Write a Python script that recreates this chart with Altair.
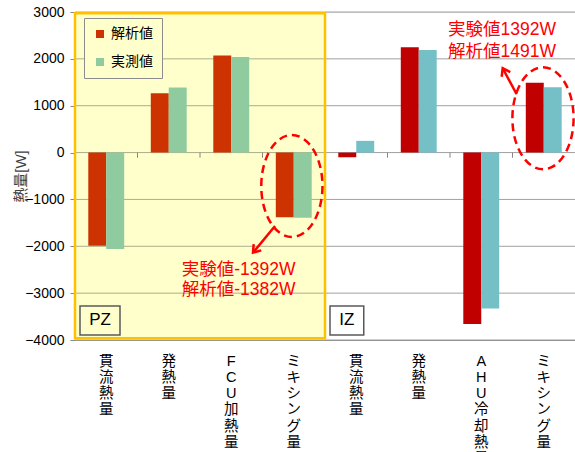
import altair as alt
import pandas as pd

# ---- data ----
CATS = ["PZ|貫流熱量", "PZ|発熱量", "PZ|FCU加熱量", "PZ|ミキシング量",
        "IZ|貫流熱量", "IZ|発熱量", "IZ|AHU冷却熱量", "IZ|ミキシング量"]
SERIES = ["解析値", "実測値"]
ANALYSIS = [-1990, 1265, 2070, -1382, -100, 2250, -3660, 1491]
MEASURED = [-2060, 1390, 2040, -1392, 250, 2190, -3330, 1392]
Y_TICKS = [-4000, -3000, -2000, -1000, 0, 1000, 2000, 3000]
ZONES = ["PZ", "IZ"]
ZONE_START = [0, 4]
ZONE_END = [4, 8]

# annotations (x in category-index units, y in W)
NOTE_TEXT = ["実験値-1392W", "解析値-1382W", "実験値1392W", "解析値1491W"]
NOTE_X = [1.707, 1.707, 5.968, 5.968]
NOTE_Y = [-2505, -2932, 2606, 2153]
ELL_X = [3.47, 7.488]
ELL_Y = [-713, 732]
ARR_X1 = [3.2, 7.067]
ARR_X2 = [2.848, 6.843]
ARR_Y1 = [-1566, 1244]
ARR_Y2 = [-2136, 1799]
ARR_ANGLE = [219.5, 331.7]
BOX_X1 = [0.08, 4.08]
BOX_X2 = [0.72, 4.62]
BOX_Y1 = [-3274, -3274]
BOX_Y2 = [-3892, -3892]

KEYS = ["PZ解析値", "PZ実測値", "IZ解析値", "IZ実測値"]
COLORS = ["#CC3300", "#8FCB9F", "#C00000", "#74C0C6"]

FONT = "Liberation Sans, Noto Sans CJK JP"

rows = []
for c, a, m in zip(CATS, ANALYSIS, MEASURED):
    z = c[:2]
    rows.append({"cat": c, "series": SERIES[0], "value": a, "key": z + SERIES[0]})
    rows.append({"cat": c, "series": SERIES[1], "value": m, "key": z + SERIES[1]})
bars_df = pd.DataFrame(rows)
cats_df = pd.DataFrame({"cat": CATS})
zones_df = pd.DataFrame({"zone": ZONES, "start": ZONE_START, "end": ZONE_END})
grid_df = pd.DataFrame([{"zone": z, "start": s, "end": e, "y": t}
                        for z, s, e in zip(ZONES, ZONE_START, ZONE_END) for t in Y_TICKS])
notes_df = pd.DataFrame({"text": NOTE_TEXT, "x": NOTE_X, "y": NOTE_Y})
ell_df = pd.DataFrame({"x": ELL_X, "y": ELL_Y})
arr_df = pd.DataFrame({"x1": ARR_X1, "x2": ARR_X2, "y1": ARR_Y1, "y2": ARR_Y2, "ang": ARR_ANGLE})
box_df = pd.DataFrame({"zone": ZONES, "x1": BOX_X1, "x2": BOX_X2, "y1": BOX_Y1, "y2": BOX_Y2})
box_df["xc"] = (box_df["x1"] + box_df["x2"]) / 2
box_df["yc"] = (box_df["y1"] + box_df["y2"]) / 2

YSCALE = alt.Scale(domain=[-4000, 3000], nice=False, zero=False)
YAXIS = alt.Axis(values=Y_TICKS, format="d", grid=False, title="熱量[W]", titleFontSize=15,
                 titleFont=FONT, titleFontWeight="normal", titleColor="#404040",
                 labelFontSize=14, labelFont=FONT, labelColor="#000000",
                 tickColor="#868686", domainColor="#868686", tickSize=5,
                 labelPadding=6, titlePadding=-4)
QX = alt.Scale(domain=[0, 8], nice=False, zero=False)
BX = alt.Scale(paddingInner=0, paddingOuter=0)


def qx(field):
    return alt.X(field, type="quantitative", scale=QX, axis=None)


def qy(field):
    return alt.Y(field, type="quantitative", scale=YSCALE, axis=YAXIS)


bg = alt.Chart(zones_df).transform_filter(alt.datum.zone == "PZ").mark_rect(
    fill="#FFFFCC").encode(x=qx("start"), x2="end",
                           y=alt.Y(datum=-4000, scale=YSCALE, axis=YAXIS), y2=alt.datum(3000))

grid_pz = alt.Chart(grid_df).transform_filter(alt.datum.zone == "PZ").mark_rule(
    color="#ADAD8A", strokeWidth=1).encode(x=qx("start"), x2="end", y=qy("y"))
grid_iz = alt.Chart(grid_df).transform_filter(alt.datum.zone == "IZ").mark_rule(
    color="#A0A0A0", strokeWidth=1).encode(x=qx("start"), x2="end", y=qy("y"))

bars = alt.Chart(bars_df).mark_bar().encode(
    x=alt.X("cat:N", sort=CATS, scale=BX, title=None,
            axis=alt.Axis(labelExpr="split(slice(datum.label, 3), '')", labelAngle=0,
                          ticks=False, domainColor="#868686", labelFontSize=14.5,
                          labelFont=FONT, labelColor="#000000", labelBaseline="top",
                          labelLineHeight=16.3, labelPadding=14)),
    xOffset=alt.XOffset("series:N", sort=SERIES,
                        scale=alt.Scale(paddingInner=0, paddingOuter=0.74)),
    y=qy("value"),
    color=alt.Color("key:N", scale=alt.Scale(domain=KEYS, range=COLORS),
                    legend=alt.Legend(values=KEYS[:2], labelExpr="slice(datum.label, 2)",
                                      title=None, orient="none", legendX=9, legendY=6,
                                      symbolType="square", symbolSize=64, symbolStrokeWidth=0,
                                      labelFontSize=14, labelFont=FONT, labelColor="#000000",
                                      fillColor="#FFFFCC", strokeColor="#8C8C8C",
                                      padding=9, rowPadding=14, labelOffset=4)),
)

zero_ticks = alt.Chart(cats_df).mark_rule(color="#868686").encode(
    x=alt.X("cat:N", sort=CATS, scale=BX, axis=None, bandPosition=0),
    y=alt.Y(datum=0, scale=YSCALE, axis=YAXIS), y2=alt.datum(-110))

border = alt.Chart(zones_df).transform_filter(alt.datum.zone == "PZ").mark_rect(
    fill=None, stroke="#FFC000", strokeWidth=2.5).encode(
    x=qx("start"), x2="end",
    y=alt.Y(datum=-3965, scale=YSCALE, axis=YAXIS), y2=alt.datum(2975))

box_fill = {"PZ": "#FFFFCC", "IZ": "#FFFFFF"}
boxes = []
for z in ZONES:
    boxes.append(alt.Chart(box_df).transform_filter(alt.datum.zone == z).mark_rect(
        fill=box_fill[z], stroke="#595959", strokeWidth=1.5).encode(
        x=qx("x1"), x2="x2", y=qy("y1"), y2="y2"))
box_text = alt.Chart(box_df).mark_text(fontSize=17, font=FONT, color="#000000",
                                       align="center", baseline="middle").encode(
    x=qx("xc"), y=qy("yc"), text="zone:N")

notes = alt.Chart(notes_df).mark_text(fontSize=17.5, font=FONT, color="#FF0000",
                                      align="left", baseline="middle").encode(
    x=qx("x"), y=qy("y"), text="text:N")

ELLIPSE = "M -0.6 0 A 0.6 1 0 1 1 0.6 0 A 0.6 1 0 1 1 -0.6 0 Z"
ellipses = alt.Chart(ell_df).mark_point(shape=ELLIPSE, size=10404, filled=False,
                                        color="#FF0000", strokeWidth=2.5,
                                        strokeDash=[8, 5], opacity=1).encode(
    x=qx("x"), y=qy("y"))

arr_lines = alt.Chart(arr_df).mark_rule(color="#FF0000", strokeWidth=2.5).encode(
    x=qx("x1"), x2="x2", y=qy("y1"), y2="y2")
CHEVRON = "M -0.7 1 L 0 0 L 0.7 1"
arr_heads = alt.Chart(arr_df).mark_point(shape=CHEVRON, size=196, filled=False,
                                         color="#FF0000", strokeWidth=2.5, opacity=1).encode(
    x=qx("x2"), y=qy("y2"), angle=alt.Angle("ang:Q", scale=None))

chart = alt.layer(bg, grid_pz, grid_iz, bars, zero_ticks, border, *boxes, box_text,
                  notes, ellipses, arr_lines, arr_heads).resolve_scale(
    x="independent").properties(
    width=500, height=328,
    autosize=alt.AutoSizeParams(type="none"),
    padding={"left": 75, "top": 12, "right": 0, "bottom": 112},
).configure_view(stroke=None).configure(background="#FFFFFF")

chart.save("out.html", embed_options={"renderer": "svg", "actions": False})
